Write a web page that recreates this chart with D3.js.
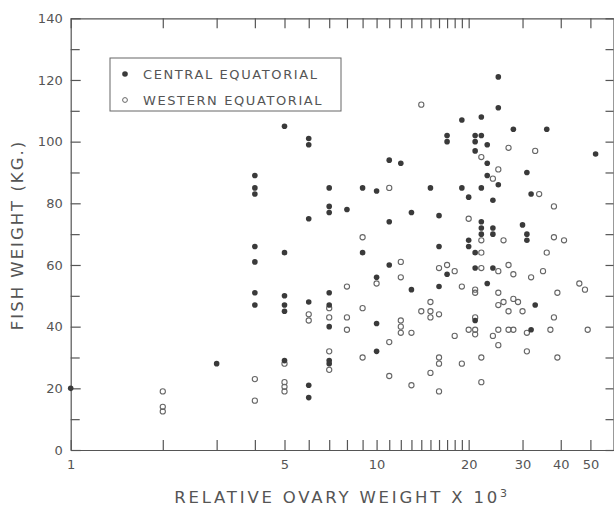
<!DOCTYPE html>
<html>
<head>
<meta charset="utf-8">
<script src="https://cdn.jsdelivr.net/npm/d3@7"></script>
<style>
body { margin: 0; background: #fff; }
svg text { font-family: "DejaVu Sans", sans-serif; fill: #555; }
</style>
</head>
<body>
<div id="chart"></div>
<script>
// relative ovary weight (x 10^3) vs fish weight (kg)
const xTicks = [1, 2, 3, 4, 5, 6, 7, 8, 9, 10, 11, 12, 13, 14, 15, 16, 17, 18, 19, 20, 30, 40, 50];
const xLabels = [1, 5, 10, 20, 30, 40, 50];
const yMajor = [0, 20, 40, 60, 80, 100, 120, 140];
const yMinor = [10, 30, 50, 70, 90, 110, 130];
const seriesNames = ['CENTRAL EQUATORIAL', 'WESTERN EQUATORIAL'];

const central = [
    [1, 20], [3, 28],
    [4, 89], [4, 85], [4, 83], [4, 66], [4, 61], [4, 51], [4, 47],
    [5, 105], [5, 64], [5, 50], [5, 47], [5, 45], [5, 29],
    [6, 101], [6, 99], [6, 75], [6, 48], [6, 21], [6, 17],
    [7, 85], [7, 79], [7, 77], [7, 51], [7, 47], [7, 40], [7, 29], [7, 28],
    [8, 78], [9, 85], [9, 64],
    [10, 84], [10, 56], [10, 41], [10, 32],
    [11, 94], [11, 74], [11, 60], [12, 93], [13, 77], [13, 52], [15, 85],
    [16, 76], [16, 66], [16, 53], [17, 102], [17, 100], [17, 57],
    [19, 107], [19, 85], [20, 82], [20, 68], [20, 66],
    [21, 102], [21, 100], [21, 97], [21, 64], [21, 59], [21, 42],
    [22, 108], [22, 102], [22, 85], [22, 74], [22, 72], [22, 70],
    [23, 99], [23, 93], [23, 89], [23, 54],
    [24, 81], [24, 72], [24, 70], [24, 59],
    [25, 121], [25, 111], [25, 86],
    [28, 104], [30, 73], [31, 90], [31, 70], [31, 68], [32, 83], [32, 39],
    [33, 47], [36, 104], [52, 96]
];

const western = [
    [2, 19], [2, 14], [2, 12.5], [4, 23], [4, 16],
    [5, 28], [5, 22], [5, 20.5], [5, 19], [6, 44], [6, 42],
    [7, 46], [7, 43], [7, 32], [7, 26], [8, 53], [8, 43], [8, 39],
    [9, 69], [9, 46], [9, 30], [10, 54], [11, 85], [11, 35], [11, 24],
    [12, 61], [12, 56], [12, 42], [12, 40], [12, 38], [13, 38], [13, 21],
    [14, 112], [14, 45], [15, 48], [15, 45], [15, 43], [15, 25],
    [16, 59], [16, 44], [16, 30], [16, 28], [16, 19], [17, 60],
    [18, 58], [18, 37], [19, 53], [19, 28], [20, 75], [20, 39],
    [21, 52], [21, 51], [21, 43], [21, 39], [21, 37.5],
    [22, 95], [22, 68], [22, 64], [22, 59], [22, 30], [22, 22],
    [24, 88], [24, 37], [25, 91], [25, 58], [25, 51], [25, 47], [25, 39], [25, 34],
    [26, 68], [26, 48], [27, 98], [27, 60], [27, 45], [27, 39],
    [28, 57], [28, 49], [28, 39], [29, 48], [30, 45], [31, 38], [31, 32],
    [32, 56], [33, 97], [34, 83], [35, 58], [36, 64], [37, 39],
    [38, 79], [38, 69], [38, 43], [39, 51], [39, 30], [41, 68],
    [46, 54], [48, 52], [49, 39]
];

const width = 614;
const height = 506;
const svg = d3.select('#chart').append('svg')
    .attr('width', width)
    .attr('height', height);

const x = d3.scaleLog().domain([1, 59.5]).range([70.7, 613.5]);
const y = d3.scaleLinear().domain([0, 140]).range([450, 18.3]);

const axisColor = '#555';
function styleAxis(g) {
    g.selectAll('path, line').attr('stroke', axisColor).attr('stroke-width', 1.2);
    g.selectAll('text').attr('fill', '#555').style('font-size', '13px');
}

svg.append('g')
    .attr('transform', 'translate(0,450)')
    .call(d3.axisBottom(x).tickValues(xTicks).tickSizeInner(-10).tickSizeOuter(0)
        .tickPadding(10).tickFormat(d => xLabels.includes(d) ? d : ''))
    .call(styleAxis);

svg.append('g')
    .attr('transform', 'translate(0,18.3)')
    .call(d3.axisTop(x).tickValues(xTicks).tickSizeInner(-10).tickSizeOuter(0).tickFormat(''))
    .call(styleAxis);

svg.append('g')
    .attr('transform', 'translate(70.7,0)')
    .call(d3.axisLeft(y).tickValues(yMajor).tickSizeInner(-10).tickSizeOuter(0).tickPadding(8))
    .call(styleAxis);

svg.append('g')
    .attr('transform', 'translate(70.7,0)')
    .call(d3.axisLeft(y).tickValues(yMinor).tickSizeInner(-9).tickSizeOuter(0).tickFormat(''))
    .call(g => g.select('.domain').remove())
    .call(styleAxis);

svg.append('g')
    .attr('transform', 'translate(613.5,0)')
    .call(d3.axisRight(y).tickValues(yMajor.concat(yMinor)).tickSizeInner(-8).tickSizeOuter(0).tickFormat(''))
    .call(styleAxis);

// points
svg.append('g').selectAll('circle')
    .data(western)
    .join('circle')
    .attr('cx', d => x(d[0]))
    .attr('cy', d => y(d[1]))
    .attr('r', 2.6)
    .attr('fill', 'none')
    .attr('stroke', '#666')
    .attr('stroke-width', 1.1);

svg.append('g').selectAll('circle')
    .data(central)
    .join('circle')
    .attr('cx', d => x(d[0]))
    .attr('cy', d => y(d[1]))
    .attr('r', 2.8)
    .attr('fill', '#3a3a3a');

// legend
const legend = svg.append('g');
legend.append('rect')
    .attr('x', 110).attr('y', 58)
    .attr('width', 231).attr('height', 53)
    .attr('fill', '#fff')
    .attr('stroke', '#666')
    .attr('stroke-width', 1);
legend.append('circle').attr('cx', 125).attr('cy', 74).attr('r', 2.8).attr('fill', '#3a3a3a');
legend.append('circle').attr('cx', 125).attr('cy', 100).attr('r', 2.4)
    .attr('fill', 'none').attr('stroke', '#666');
legend.selectAll('text')
    .data(seriesNames)
    .join('text')
    .attr('x', 143)
    .attr('y', (d, i) => 74 + i * 26)
    .attr('dy', '0.36em')
    .style('font-size', '13px')
    .style('letter-spacing', '1.6px')
    .text(d => d);

// axis titles
const xt = svg.append('text')
    .attr('x', 342)
    .attr('y', 503)
    .attr('text-anchor', 'middle')
    .style('font-size', '16.5px')
    .style('letter-spacing', '2.8px');
xt.append('tspan').text('RELATIVE OVARY WEIGHT X 10');
xt.append('tspan').attr('dy', -6).style('font-size', '11px').text('3');

svg.append('text')
    .attr('transform', 'translate(23,235) rotate(-90)')
    .attr('text-anchor', 'middle')
    .style('font-size', '16.5px')
    .style('letter-spacing', '2px')
    .text('FISH WEIGHT (KG.)');
</script>
</body>
</html>
